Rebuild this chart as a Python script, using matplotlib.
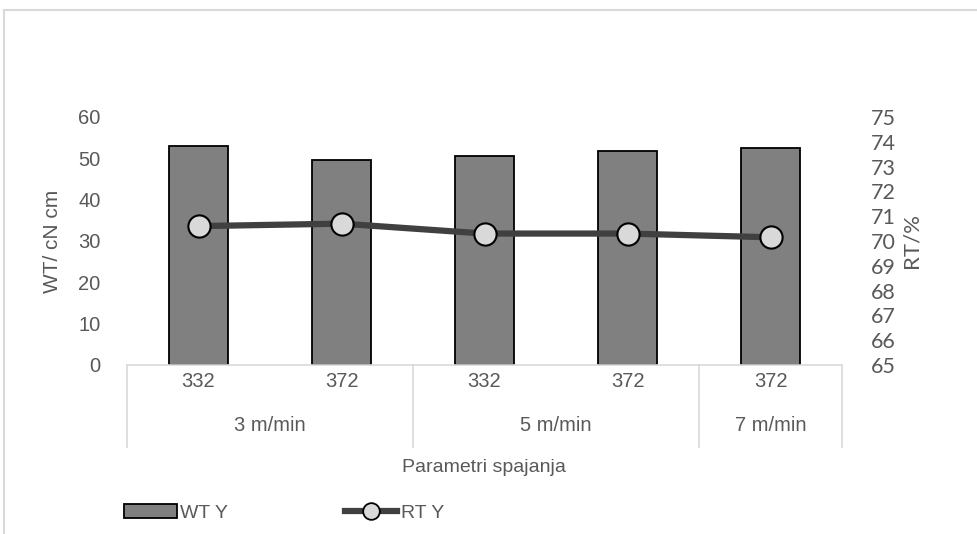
import matplotlib
matplotlib.use("Agg")
import matplotlib.pyplot as plt
from matplotlib.lines import Line2D
from matplotlib.patches import Patch

# data
speeds = ["3 m/min", "5 m/min", "7 m/min"]
speed_sizes = [2, 2, 1]
params = ["332", "372", "332", "372", "372"]
wt_y = [53.0, 49.6, 50.6, 51.8, 52.5]
rt_y = [70.6, 70.7, 70.3, 70.3, 70.15]

TXT = "#595959"
GRID = "#D9D9D9"
FS = 14.5
plt.rcParams["font.family"] = ["Liberation Sans", "DejaVu Sans"]

W, H = 977, 534
fig = plt.figure(figsize=(W / 100, H / 100), dpi=100)
ax = fig.add_axes([127 / W, 1 - 365 / H, (842 - 127) / W, (365 - 117) / H])

x = list(range(len(params)))
ax.bar(x, wt_y, width=0.41, color="#808080", edgecolor="black", linewidth=1.3, zorder=2)
ax.set_xlim(-0.5, len(params) - 0.5)
ax.set_ylim(0, 60)
ax.set_yticks(range(0, 61, 10))
ax.tick_params(axis="y", length=0, pad=19, labelsize=FS, labelcolor=TXT)
ax.set_xticks([])
for s in ["top", "right", "left"]:
    ax.spines[s].set_visible(False)
ax.spines["bottom"].set_color(GRID)
ax.spines["bottom"].set_linewidth(1.2)
ax.set_ylabel("WT/ cN cm", fontsize=FS + 0.5, color=TXT, labelpad=12)

ax2 = ax.twinx()
ax2.plot(x, rt_y, color="#404040", linewidth=4.5, marker="o", markersize=16,
         markerfacecolor="#D9D9D9", markeredgecolor="black", markeredgewidth=1.5, zorder=3)
ax2.set_ylim(65, 75)
ax2.set_yticks(range(65, 76))
ax2.tick_params(axis="y", length=0, pad=21, labelsize=FS + 1, labelcolor=TXT)
for lbl in ax2.get_yticklabels():
    lbl.set_family(["Lato", "DejaVu Sans"])
for s in ax2.spines.values():
    s.set_visible(False)
ax2.set_ylabel("RT/%", fontsize=FS + 1.5, color=TXT, labelpad=4, family=["Lato", "DejaVu Sans"])

# multi-level category axis
tr = ax.get_xaxis_transform()
for i, p in enumerate(params):
    ax.text(i, -0.065, p, transform=tr, ha="center", va="center", fontsize=FS, color=TXT)
start = 0
bounds = [-0.5]
for name, n in zip(speeds, speed_sizes):
    mid = start + (n - 1) / 2
    ax.text(mid, -0.245, name, transform=tr, ha="center", va="center", fontsize=FS, color=TXT)
    start += n
    bounds.append(start - 0.5)
for b in bounds:
    ax.plot([b, b], [0, -0.33], transform=tr, color=GRID, linewidth=1.2, clip_on=False)

fig.text(484 / W, 1 - 467 / H, "Parametri spajanja", ha="center", va="center",
         fontsize=FS - 0.5, color=TXT)

# outer chart frame
fig.add_artist(Line2D([4 / W, 4 / W], [0, 1 - 10 / H], color=GRID, linewidth=1.5))
fig.add_artist(Line2D([4 / W, 1], [1 - 10 / H, 1 - 10 / H], color=GRID, linewidth=1.5))

handles = [
    Patch(facecolor="#808080", edgecolor="black", linewidth=1.3, label="WT Y"),
    Line2D([], [], color="#404040", linewidth=4.5, marker="o", markersize=12,
           markerfacecolor="#D9D9D9", markeredgecolor="black", markeredgewidth=1.3, label="RT Y"),
]
leg = fig.legend(handles=handles, loc="center left", bbox_to_anchor=(124 / W, 1 - 513 / H),
                 ncol=2, frameon=False, fontsize=FS - 0.5, handlelength=2.7, handleheight=0.75,
                 handletextpad=0.2, columnspacing=6.0, borderpad=0, borderaxespad=0)
for t in leg.get_texts():
    t.set_color(TXT)

fig.savefig("out.png", dpi=100, facecolor="white")
